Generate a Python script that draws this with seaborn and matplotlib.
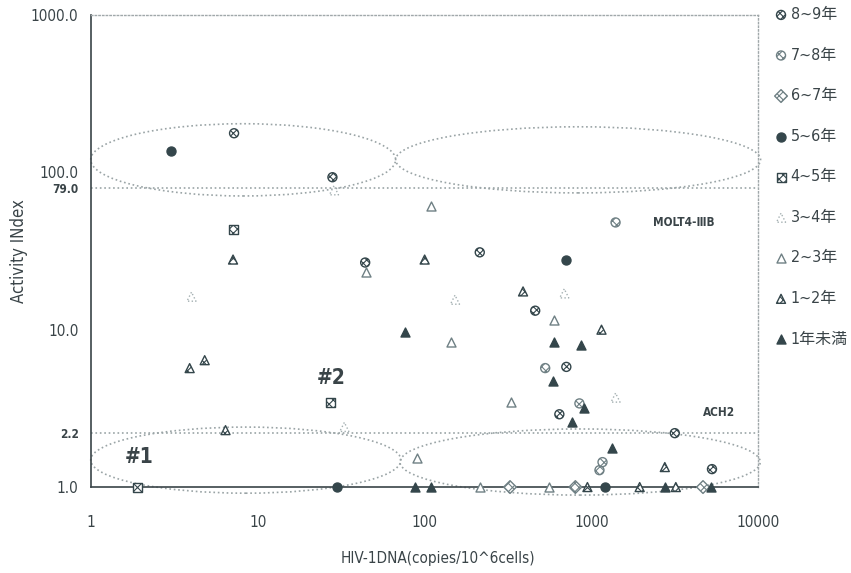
import numpy as np
import pandas as pd
import matplotlib
matplotlib.use('Agg')
import matplotlib.pyplot as plt
from matplotlib.patches import Ellipse
import seaborn as sns

# years since infection groups (legend order)
groups = ['8~9年', '7~8年', '6~7年', '5~6年', '4~5年', '3~4年', '2~3年', '1~2年', '1年未満']

# HIV-1 DNA (copies/10^6 cells) and activity index
x_8_9 = [7.2, 28, 44, 214, 460, 707, 642, 3160, 5280]
y_8_9 = [177, 93, 26.7, 31, 13.2, 5.8, 2.9, 2.2, 1.3]
x_7_8 = [1395, 528, 847, 1117, 1165]
y_7_8 = [48, 5.7, 3.4, 1.28, 1.44]
x_6_7 = [325, 801, 4665]
y_6_7 = [1.0, 1.0, 1.0]
x_5_6 = [3.0, 707, 30, 1214]
y_5_6 = [136, 27.9, 1.0, 1.0]
x_4_5 = [7.1, 27.2, 1.9]
y_4_5 = [43.4, 3.43, 1.0]
x_3_4 = [28.6, 4.0, 152, 687, 33, 1395]
y_3_4 = [76.8, 16.2, 15.5, 17.0, 2.41, 3.7]
x_2_3 = [109, 44.7, 598, 143, 330, 89.5, 214, 558]
y_2_3 = [60.7, 23.4, 11.6, 8.3, 3.48, 1.53, 1.0, 1.0]
x_1_2 = [7.1, 3.9, 4.8, 6.4, 100, 389, 1149, 2753, 946, 1946, 3206]
y_1_2 = [27.9, 5.7, 6.4, 2.3, 27.9, 17.5, 10.0, 1.34, 1.0, 1.0, 1.0]
x_lt1 = [76, 598, 871, 590, 907, 768, 1321, 87, 109, 2753, 5213]
y_lt1 = [9.6, 8.3, 8.0, 4.7, 3.2, 2.6, 1.77, 1.0, 1.0, 1.0, 1.0]

xs = [x_8_9, x_7_8, x_6_7, x_5_6, x_4_5, x_3_4, x_2_3, x_1_2, x_lt1]
ys = [y_8_9, y_7_8, y_6_7, y_5_6, y_4_5, y_3_4, y_2_3, y_1_2, y_lt1]

ref_lines = [79.0, 2.2]
y_ticks = [1.0, 2.2, 10.0, 79.0, 100.0, 1000.0]
x_ticks = [1, 10, 100, 1000, 10000]

dark = '#34464b'
mid = '#6f8084'
light = '#a4b0b2'
txt = '#3a4448'
styles = {
    '8~9年': dict(marker='o', color='white', edgecolor=dark, hatch='xxxxx'),
    '7~8年': dict(marker='o', color='white', edgecolor=mid, hatch='xxxx'),
    '6~7年': dict(marker='D', color='white', edgecolor=mid, hatch='xxxx'),
    '5~6年': dict(marker='o', color=dark, edgecolor=dark),
    '4~5年': dict(marker='s', color='white', edgecolor=dark, hatch='xxxx'),
    '3~4年': dict(marker='^', color='white', edgecolor=light, linestyle=':'),
    '2~3年': dict(marker='^', color='white', edgecolor=mid),
    '1~2年': dict(marker='^', color='white', edgecolor=dark, hatch='xxxx'),
    '1年未満': dict(marker='^', color=dark, edgecolor=dark),
}

sns.set_style('white')
plt.rcParams['font.family'] = ['DejaVu Sans', 'Noto Sans CJK JP']
plt.rcParams['font.stretch'] = 'condensed'
plt.rcParams['hatch.linewidth'] = 0.8

fig = plt.figure(figsize=(8.51, 5.73), dpi=100)
ax = fig.add_axes([0.107, 0.150, 0.784, 0.824])

for g, gx, gy in zip(groups, xs, ys):
    df = pd.DataFrame({'dna': gx, 'activity': gy})
    sns.scatterplot(data=df, x='dna', y='activity', ax=ax, s=42, linewidth=1.0,
                    label=g, clip_on=False, zorder=3, **styles[g])

ax.set_xscale('log')
ax.set_yscale('log')
ax.set_xlim(1, 10000)
ax.set_ylim(1, 1000)

for v in ref_lines:
    ax.axhline(v, color='#9aa4a6', linestyle=':', linewidth=1.2, zorder=1)

# dotted ellipses marking the regions
for cx, cy, w, h in [(0.228, 0.693, 0.457, 0.153), (0.730, 0.693, 0.547, 0.14),
                     (0.232, 0.057, 0.465, 0.14), (0.733, 0.053, 0.54, 0.14)]:
    ax.add_patch(Ellipse((cx, cy), w, h, transform=ax.transAxes, fill=False,
                         edgecolor='#9aa4a6', linestyle=':', linewidth=1.2, clip_on=False))

ax.set_xticks(x_ticks)
ax.set_xticklabels([str(t) for t in x_ticks])
ax.set_yticks(y_ticks)
ax.set_yticklabels([f'{t:.1f}' for t in y_ticks])
ax.minorticks_off()
ax.tick_params(direction='in', length=3, colors=txt, labelsize=11)
ax.tick_params(axis='y', pad=9)
ax.tick_params(axis='x', pad=20)
for lab in ax.get_yticklabels():
    if lab.get_text() in ('2.2', '79.0'):
        lab.set_fontsize(8.5)
        lab.set_fontweight('bold')

for s in ['left', 'bottom']:
    ax.spines[s].set_color(txt)
    ax.spines[s].set_linewidth(1.2)
for s in ['top', 'right']:
    ax.spines[s].set_color('#a0a8aa')
    ax.spines[s].set_linestyle(':')
    ax.spines[s].set_linewidth(1.0)

ax.set_xlabel('HIV-1DNA(copies/10^6cells)', fontsize=11, color=txt)
ax.xaxis.set_label_coords(0.52, -0.135)
ax.set_ylabel('Activity INdex', fontsize=12, color=txt)
ax.yaxis.set_label_coords(-0.095, 0.5)

ax.text(2330, 48, 'MOLT4-ⅢB', fontsize=8.5, fontweight='bold', color=txt, va='center')
ax.text(4665, 2.96, 'ACH2', fontsize=8.5, fontweight='bold', color=txt, va='center')
ax.text(1.6, 1.55, '#1', fontsize=15, fontweight='bold', color=txt, va='center')
ax.text(22.4, 4.95, '#2', fontsize=15, fontweight='bold', color=txt, va='center')

leg = ax.legend(loc='upper left', bbox_to_anchor=(1.015, 1.03), frameon=False,
                labelspacing=1.6, handletextpad=0.2, handlelength=0.8,
                borderaxespad=0, fontsize=11.5, labelcolor=txt)

fig.savefig('out.png', dpi=100)
